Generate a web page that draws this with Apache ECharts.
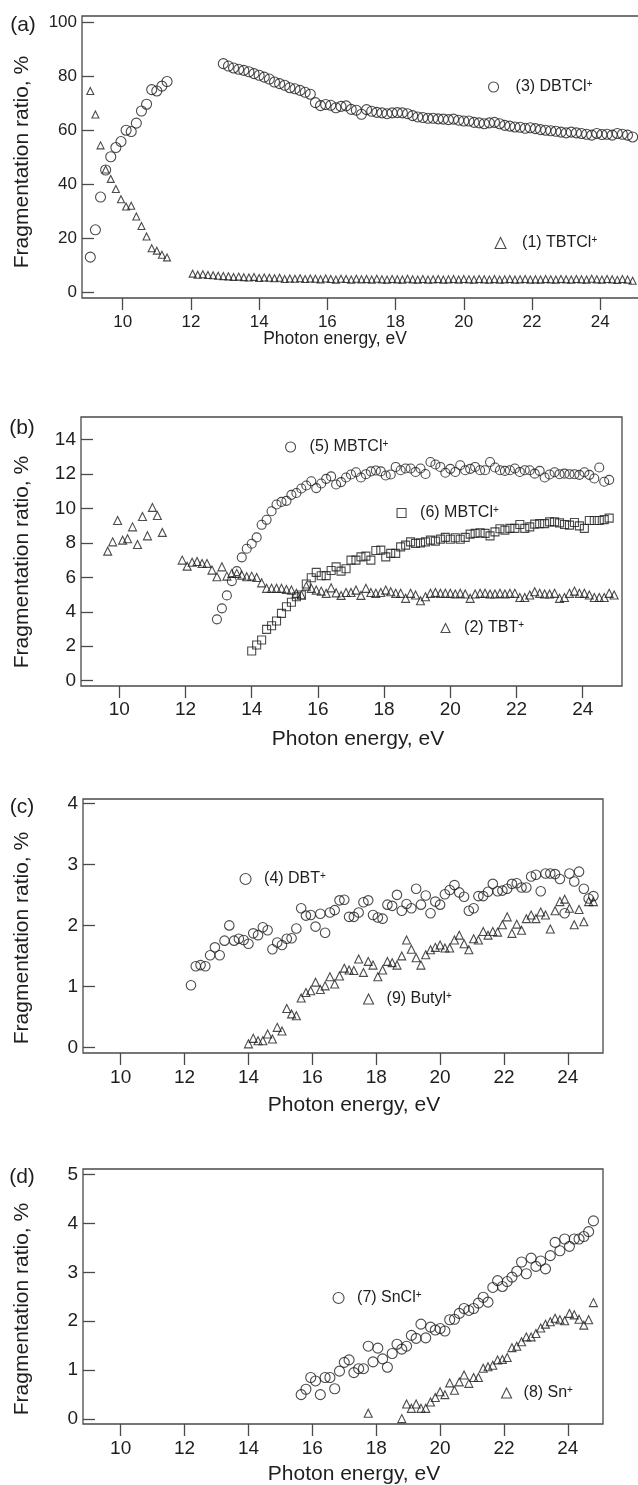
<!DOCTYPE html>
<html>
<head>
<meta charset="utf-8">
<title>Fragmentation ratio vs photon energy</title>
<script src="https://cdn.jsdelivr.net/npm/echarts@6/dist/echarts.min.js"></script>
<style>
  html, body { margin: 0; padding: 0; background: #fff; }
  #chart { width: 638px; height: 1485px; }
</style>
</head>
<body>
<div id="chart"></div>
<script>
// photon energy grid (eV), the points of every series sit on it
const energy = [9.05, 9.20, 9.35, 9.50, 9.65, 9.80, 9.95, 10.10, 10.25, 10.40, 10.55, 10.70, 10.85, 11.00, 11.15, 11.30,
  11.45, 11.60, 11.75, 11.90, 12.05, 12.20, 12.35, 12.50, 12.65, 12.80, 12.95, 13.10, 13.25, 13.40, 13.55, 13.70,
  13.85, 14.00, 14.15, 14.30, 14.45, 14.60, 14.75, 14.90, 15.05, 15.20, 15.35, 15.50, 15.65, 15.80, 15.95, 16.10,
  16.25, 16.40, 16.55, 16.70, 16.85, 17.00, 17.15, 17.30, 17.45, 17.60, 17.75, 17.90, 18.05, 18.20, 18.35, 18.50,
  18.65, 18.80, 18.95, 19.10, 19.25, 19.40, 19.55, 19.70, 19.85, 20.00, 20.15, 20.30, 20.45, 20.60, 20.75, 20.90,
  21.05, 21.20, 21.35, 21.50, 21.65, 21.80, 21.95, 22.10, 22.25, 22.40, 22.55, 22.70, 22.85, 23.00, 23.15, 23.30,
  23.45, 23.60, 23.75, 23.90, 24.05, 24.20, 24.35, 24.50, 24.65, 24.80, 24.95];

const xTicks = [10, 12, 14, 16, 18, 20, 22, 24];
const yTicksA = [0, 20, 40, 60, 80, 100];
const yTicksB = [0, 2, 4, 6, 8, 10, 12, 14];
const yTicksC = [0, 1, 2, 3, 4];
const yTicksD = [0, 1, 2, 3, 4, 5];

// (a) each series: index of its first point on the energy grid + values (%)
const dbtclLowStart = 0;
const dbtclLow = [13.1, 23.2, 35.3, 45.3, 50.2, 53.6, 55.8, 60.0, 59.5, 62.6, 67.1, 69.6, 75.0, 74.5, 76.3, 78.0];
const dbtclHighStart = 26;
const dbtclHigh = [84.6, 83.7, 83.0, 82.5, 82.1, 81.6, 80.9, 80.3, 79.6, 78.9, 77.8, 77.2, 76.6, 75.7, 75.3, 74.7, 74.0, 73.3,
  70.2, 69.1, 69.5, 69.2, 68.3, 68.8, 69.0, 67.7, 67.4, 65.9, 67.6, 67.0, 66.6, 66.4, 66.1, 66.4, 66.5, 66.4, 66.1, 65.4,
  64.9, 64.7, 64.4, 64.4, 64.2, 64.1, 63.9, 64.1, 63.7, 63.4, 63.4, 62.9, 62.7, 62.4, 62.7, 62.9, 62.4, 61.8, 61.5, 61.2,
  61.1, 60.7, 60.9, 60.6, 60.2, 60.0, 59.8, 59.6, 59.3, 59.0, 59.3, 59.0, 58.8, 58.5, 58.2, 58.8, 58.4, 58.5, 58.2, 58.8,
  58.5, 58.2, 57.5];
const tbtclLowStart = 0;
const tbtclLow = [74.5, 65.8, 54.4, 45.5, 42.0, 38.3, 34.5, 31.8, 32.1, 28.1, 24.6, 20.7, 16.4, 15.5, 14.0, 13.0];
const tbtclHighStart = 20;
const tbtclHigh = [7.0, 6.6, 6.8, 6.5, 6.4, 6.2, 6.1, 6.0, 5.8, 5.9, 5.7, 5.6, 5.8, 5.4, 5.6, 5.5,
  5.3, 5.5, 5.0, 5.2, 5.1, 5.3, 5.0, 5.2, 5.1, 4.9, 5.2, 5.0, 4.8, 5.1, 5.0, 4.8,
  5.1, 4.9, 5.0, 4.8, 5.1, 4.9, 4.8, 5.0, 4.9, 4.8, 5.1, 4.9, 4.8, 5.0, 4.8, 4.9,
  5.0, 4.8, 4.9, 5.0, 4.8, 5.0, 4.9, 4.8, 5.0, 4.9, 4.8, 5.0, 4.8, 4.9, 5.0, 4.8,
  4.9, 5.0, 4.8, 4.9, 4.8, 5.0, 4.9, 4.8, 5.0, 4.9, 4.8, 5.0, 4.9, 4.8, 5.1, 4.9,
  4.8, 5.0, 4.9, 4.7, 5.0, 4.8, 4.4];

// (b)
const mbtcl5Start = 26;
const mbtcl5 = [3.56, 4.20, 4.95, 5.78, 6.36, 7.16, 7.66, 7.95, 8.32, 9.05, 9.34, 9.84, 10.23, 10.38, 10.44, 10.79,
  10.90, 11.16, 11.33, 11.58, 11.18, 11.45, 11.72, 11.86, 11.39, 11.53, 11.80, 11.97, 12.10, 11.80, 11.99, 12.15,
  12.20, 12.15, 11.91, 11.97, 12.41, 12.22, 12.32, 12.32, 12.12, 12.32, 12.00, 12.70, 12.55, 12.41, 12.07, 12.30,
  12.12, 12.51, 12.22, 12.30, 12.41, 12.22, 12.22, 12.70, 12.38, 12.22, 12.18, 12.22, 12.32, 12.12, 12.22, 12.22,
  12.02, 12.18, 11.80, 11.97, 12.10, 11.99, 12.02, 11.99, 11.99, 11.95, 12.10, 11.95, 11.74, 12.38, 11.55, 11.66];
const mbtcl6Start = 33;
const mbtcl6 = [1.72, 2.07, 2.36, 2.98, 3.19, 3.46, 3.91, 4.29, 4.55, 4.87, 4.97, 5.61, 5.98, 6.29, 6.09, 6.10,
  6.40, 6.61, 6.36, 6.50, 7.00, 7.00, 7.19, 7.23, 7.00, 7.56, 7.58, 7.19, 7.39, 7.39, 7.77, 7.87, 8.06, 7.97,
  8.00, 8.06, 8.16, 8.10, 8.22, 8.32, 8.21, 8.30, 8.21, 8.32, 8.51, 8.55, 8.59, 8.55, 8.41, 8.64, 8.82, 8.74,
  8.84, 8.84, 9.07, 8.84, 8.93, 9.09, 9.12, 9.12, 9.22, 9.22, 9.16, 9.07, 9.03, 9.18, 8.99, 8.84, 9.30, 9.30,
  9.30, 9.35, 9.44];
const tbtLowStart = 4;
const tbtLow = [7.52, 8.06, 9.30, 8.16, 8.24, 8.93, 7.91, 9.53, 8.41, 10.06, 9.59, 8.61];
const tbtHighStart = 19;
const tbtHigh = [7.00, 6.65, 6.88, 6.92, 6.81, 6.81, 6.42, 6.03, 6.61, 6.07, 6.23, 6.23, 6.13, 6.03, 6.07, 5.99,
  5.68, 5.36, 5.36, 5.36, 5.36, 5.30, 5.26, 5.07, 4.97, 5.49, 5.36, 5.26, 5.20, 5.07, 5.39, 5.10, 4.95, 5.12,
  5.12, 5.26, 4.95, 5.36, 5.12, 5.07, 5.12, 5.26, 5.16, 5.07, 5.07, 4.78, 5.07, 4.97, 4.64, 4.87, 5.07, 5.12,
  5.07, 5.07, 5.07, 5.03, 5.07, 5.03, 4.78, 5.03, 5.07, 5.07, 5.03, 5.03, 5.07, 5.03, 5.07, 5.07, 4.83, 4.83,
  4.97, 5.16, 5.07, 5.03, 5.03, 5.07, 4.78, 4.83, 5.07, 5.20, 5.07, 5.07, 4.97, 4.83, 4.83, 4.83, 5.07, 4.97];

// (c)
const dbtStart = 21;
const dbt = [1.02, 1.33, 1.35, 1.33, 1.51, 1.64, 1.51, 1.75, 2.00, 1.75, 1.78, 1.76, 1.70, 1.87, 1.84, 1.97,
  1.92, 1.61, 1.72, 1.68, 1.78, 1.79, 1.95, 2.28, 2.16, 2.17, 1.98, 2.19, 1.88, 2.21, 2.25, 2.41, 2.42, 2.14,
  2.14, 2.21, 2.38, 2.41, 2.17, 2.13, 2.11, 2.34, 2.32, 2.50, 2.24, 2.35, 2.28, 2.60, 2.34, 2.49, 2.20, 2.39,
  2.34, 2.51, 2.58, 2.66, 2.54, 2.47, 2.24, 2.28, 2.48, 2.48, 2.55, 2.68, 2.56, 2.57, 2.60, 2.68, 2.69, 2.62,
  2.62, 2.80, 2.83, 2.56, 2.85, 2.85, 2.84, 2.76, 2.20, 2.85, 2.72, 2.88, 2.60, 2.44, 2.48];
const butylStart = 33;
const butyl = [0.06, 0.15, 0.11, 0.11, 0.22, 0.14, 0.33, 0.27, 0.64, 0.55, 0.52, 0.81, 0.90, 0.93, 1.07, 0.95,
  1.01, 1.16, 1.04, 1.17, 1.30, 1.27, 1.26, 1.45, 1.23, 1.41, 1.35, 1.16, 1.27, 1.41, 1.39, 1.35, 1.50, 1.76,
  1.61, 1.47, 1.35, 1.52, 1.60, 1.64, 1.68, 1.63, 1.63, 1.76, 1.84, 1.70, 1.60, 1.78, 1.76, 1.90, 1.84, 1.90,
  1.89, 2.01, 2.14, 1.87, 2.02, 1.92, 2.11, 2.17, 2.11, 2.22, 2.17, 1.94, 2.24, 2.39, 2.43, 2.28, 2.01, 2.26,
  2.06, 2.39, 2.39];

// (d)
const snclStart = 44;
const sncl = [0.50, 0.61, 0.85, 0.78, 0.50, 0.85, 0.85, 0.62, 0.98, 1.16, 1.21, 0.95, 1.03, 1.03, 1.49, 1.17,
  1.45, 1.23, 1.06, 1.34, 1.53, 1.43, 1.49, 1.71, 1.65, 1.94, 1.66, 1.88, 1.82, 1.85, 1.80, 2.03, 2.04, 2.16,
  2.26, 2.22, 2.26, 2.37, 2.49, 2.39, 2.69, 2.83, 2.71, 2.81, 2.90, 3.02, 3.21, 2.97, 3.29, 3.12, 3.23, 3.07,
  3.34, 3.61, 3.44, 3.68, 3.53, 3.68, 3.68, 3.73, 3.83, 4.05];
const snStart = 58;
const sn = [0.12, null, null, null, null, null, null, 0.01, 0.31, 0.22, 0.31, 0.22, 0.22, 0.35, 0.44, 0.56,
  0.50, 0.74, 0.59, 0.76, 0.90, 0.73, 0.85, 0.85, 1.04, 1.07, 1.10, 1.21, 1.22, 1.26, 1.46, 1.49, 1.58, 1.68,
  1.68, 1.75, 1.86, 1.94, 1.99, 2.06, 2.03, 2.01, 2.16, 2.13, 2.04, 1.92, 2.03, 2.38];

const FONT = 'Liberation Sans, Arial, sans-serif';
const INK = '#1e1e1e';
const FRAME = '#4a4a4a';

// panel frames in px and the axis ranges that fill them
const panels = [
  { left: 82, top: 16, width: 558, height: 282, xMin: 8.807, xMax: 25.166, yMin: -2.0, yMax: 102.2, yTicks: yTicksA, tickFont: 17, xMargin: 16 },
  { left: 81, top: 417, width: 541, height: 269, xMin: 8.843, xMax: 25.187, yMin: -0.31, yMax: 15.31, yTicks: yTicksB, tickFont: 19, xMargin: 14 },
  { left: 83, top: 799, width: 520, height: 254, xMin: 8.82, xMax: 25.10, yMin: -0.09, yMax: 4.07, yTicks: yTicksC, tickFont: 19, xMargin: 15 },
  { left: 83, top: 1169, width: 520, height: 255, xMin: 8.82, xMax: 25.10, yMin: -0.10, yMax: 5.11, yTicks: yTicksD, tickFont: 19, xMargin: 15 }
];

const toPoints = (start, values) => values
  .map((v, k) => v === null ? null : [energy[start + k], v])
  .filter(p => p !== null);

const hollow = { color: 'rgba(0,0,0,0)', borderColor: INK, borderWidth: 1.1 };

const seriesDefs = [
  { name: '(3) DBTCl+', panel: 0, symbol: 'circle', size: 10, data: toPoints(dbtclLowStart, dbtclLow).concat(toPoints(dbtclHighStart, dbtclHigh)) },
  { name: '(1) TBTCl+', panel: 0, symbol: 'triangle', size: 7, data: toPoints(tbtclLowStart, tbtclLow).concat(toPoints(tbtclHighStart, tbtclHigh)) },
  { name: '(5) MBTCl+', panel: 1, symbol: 'circle', size: 9, data: toPoints(mbtcl5Start, mbtcl5) },
  { name: '(6) MBTCl+', panel: 1, symbol: 'rect', size: 8, data: toPoints(mbtcl6Start, mbtcl6) },
  { name: '(2) TBT+', panel: 1, symbol: 'triangle', size: 8, data: toPoints(tbtLowStart, tbtLow).concat(toPoints(tbtHighStart, tbtHigh)) },
  { name: '(4) DBT+', panel: 2, symbol: 'circle', size: 9.5, data: toPoints(dbtStart, dbt) },
  { name: '(9) Butyl+', panel: 2, symbol: 'triangle', size: 8, data: toPoints(butylStart, butyl) },
  { name: '(7) SnCl+', panel: 3, symbol: 'circle', size: 10, data: toPoints(snclStart, sncl) },
  { name: '(8) Sn+', panel: 3, symbol: 'triangle', size: 8, data: toPoints(snStart, sn) }
];

// in-plot keys: icon centre (px), icon size, gap between icon and text
const keys = [
  { name: '(3) DBTCl+', cx: 493, cy: 87, size: 10, gap: 12 },
  { name: '(1) TBTCl+', cx: 500, cy: 243, size: 11, gap: 11 },
  { name: '(5) MBTCl+', cx: 290, cy: 447, size: 10, gap: 9 },
  { name: '(6) MBTCl+', cx: 401, cy: 513, size: 9, gap: 9 },
  { name: '(2) TBT+', cx: 445, cy: 628, size: 9, gap: 9 },
  { name: '(4) DBT+', cx: 245, cy: 879, size: 11, gap: 8 },
  { name: '(9) Butyl+', cx: 368, cy: 999, size: 10, gap: 8 },
  { name: '(7) SnCl+', cx: 338, cy: 1298, size: 11, gap: 8 },
  { name: '(8) Sn+', cx: 506, cy: 1393, size: 10, gap: 7 }
];

const texts = [
  { text: '(a)', x: 23, y: 25, size: 21 },
  { text: '(b)', x: 22, y: 428, size: 21 },
  { text: '(c)', x: 22, y: 807, size: 21 },
  { text: '(d)', x: 22, y: 1177, size: 21 },
  { text: 'Photon energy, eV', x: 335, y: 339, size: 17.5 },
  { text: 'Photon energy, eV', x: 358, y: 739, size: 21 },
  { text: 'Photon energy, eV', x: 354, y: 1105, size: 21 },
  { text: 'Photon energy, eV', x: 354, y: 1474, size: 21 },
  { text: 'Fragmentation ratio, %', x: 22, y: 162, size: 21, rotate: true },
  { text: 'Fragmentation ratio, %', x: 22, y: 562, size: 21, rotate: true },
  { text: 'Fragmentation ratio, %', x: 22, y: 938, size: 21, rotate: true },
  { text: 'Fragmentation ratio, %', x: 22, y: 1309, size: 21, rotate: true }
];

const chart = echarts.init(document.getElementById('chart'), null, { renderer: 'canvas' });

const option = {
  animation: false,
  backgroundColor: '#fff',
  grid: panels.map(p => ({
    left: p.left, top: p.top, width: p.width, height: p.height,
    show: true, borderColor: FRAME, borderWidth: 1.3, backgroundColor: 'rgba(0,0,0,0)',
    containLabel: false, outerBoundsMode: 'none'
  })),
  xAxis: panels.map((p, i) => ({
    type: 'value', gridIndex: i, min: p.xMin, max: p.xMax,
    axisLine: { show: false, onZero: false },
    axisTick: { show: true, inside: false, length: 12, customValues: xTicks, lineStyle: { color: FRAME, width: 1.3 } },
    axisLabel: { customValues: xTicks, margin: p.xMargin, fontSize: p.tickFont, fontFamily: FONT, color: INK },
    splitLine: { show: false }
  })),
  yAxis: panels.map((p, i) => ({
    type: 'value', gridIndex: i, min: p.yMin, max: p.yMax,
    axisLine: { show: false, onZero: false },
    axisTick: { show: true, inside: true, length: 12, customValues: p.yTicks, lineStyle: { color: FRAME, width: 1.3 } },
    axisLabel: { customValues: p.yTicks, margin: 5, fontSize: p.tickFont, fontFamily: FONT, color: INK },
    splitLine: { show: false }
  })),
  legend: keys.map(k => ({
    data: [k.name],
    left: k.cx - k.size / 2,
    top: k.cy - 8,
    padding: 0,
    itemWidth: k.size,
    itemHeight: k.size,
    selectedMode: false,
    itemStyle: { color: 'rgba(0,0,0,0)', borderColor: INK, borderWidth: 1.1 },
    formatter: name => '{n|' + name.replace(/\+$/, '') + '}{s|+}',
    textStyle: {
      padding: [0, 0, 0, k.gap],
      rich: {
        n: { fontSize: 16, fontFamily: FONT, color: INK },
        s: { fontSize: 10, fontFamily: FONT, color: INK, verticalAlign: 'top', lineHeight: 7 }
      }
    }
  })),
  graphic: texts.map(t => ({
    type: 'text',
    x: t.x, y: t.y,
    rotation: t.rotate ? Math.PI / 2 : 0,
    silent: true,
    style: { text: t.text, fontSize: t.size, fontFamily: FONT, fill: INK, align: 'center', verticalAlign: 'middle' }
  })),
  series: seriesDefs.map(s => ({
    type: 'scatter', name: s.name,
    xAxisIndex: s.panel, yAxisIndex: s.panel,
    symbol: s.symbol, symbolSize: s.size,
    itemStyle: hollow,
    emphasis: { disabled: true },
    silent: true,
    data: s.data
  }))
};

chart.setOption(option);
</script>
</body>
</html>
